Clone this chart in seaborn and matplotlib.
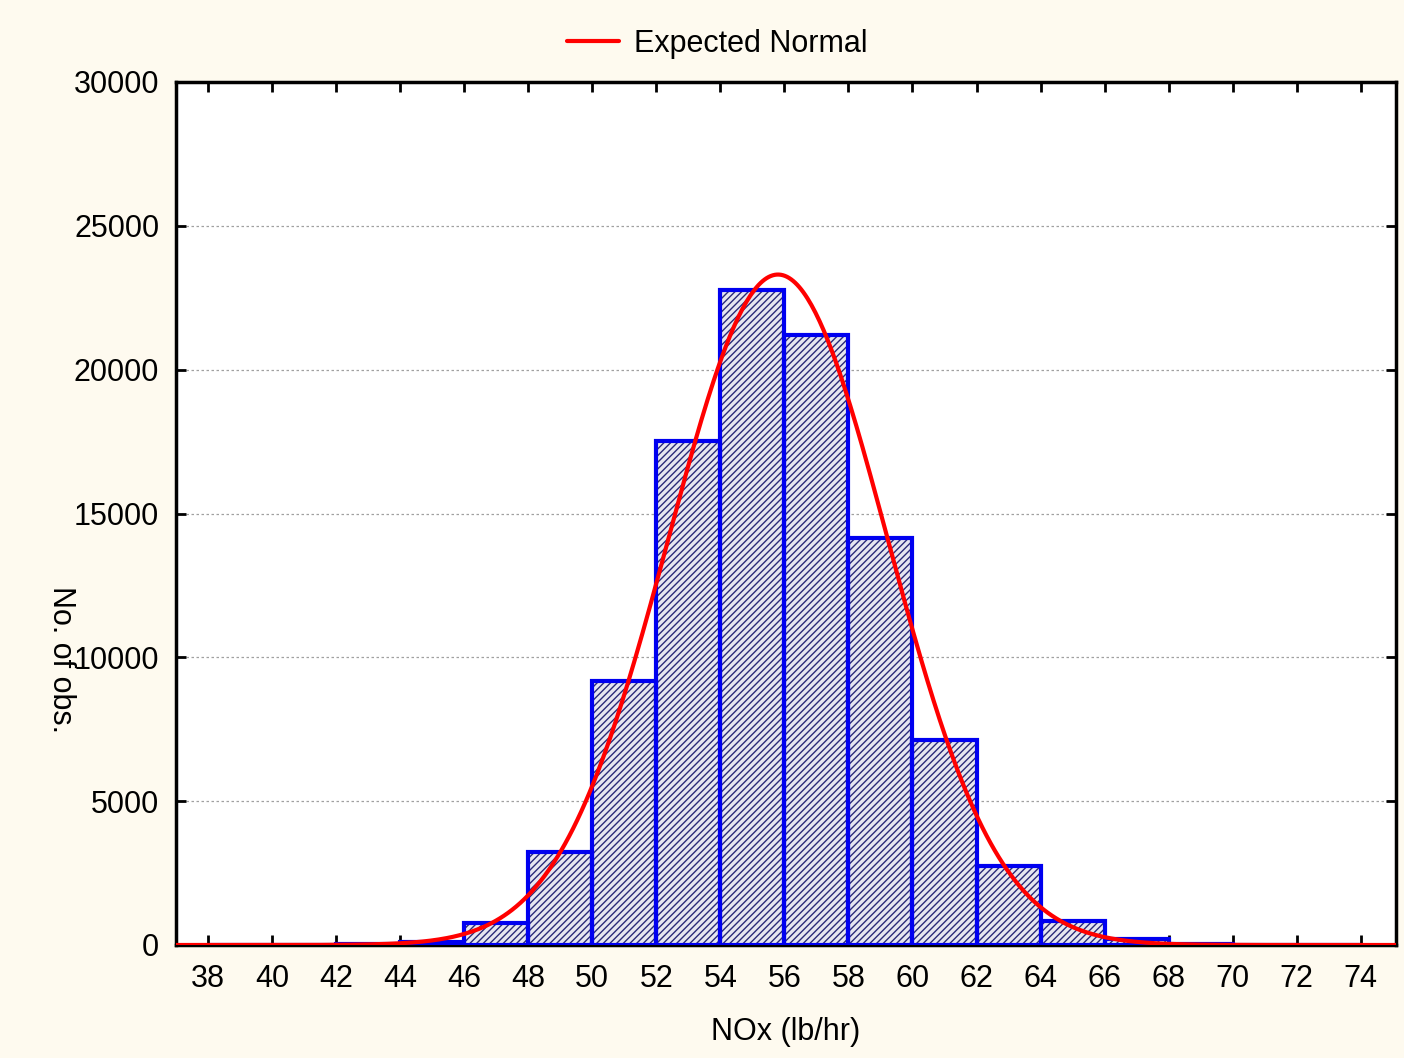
import numpy as np
import pandas as pd
import matplotlib
matplotlib.use("Agg")
import matplotlib.pyplot as plt
import seaborn as sns

# ---- data ----
bin_edges = [38, 40, 42, 44, 46, 48, 50, 52, 54, 56, 58, 60, 62, 64, 66, 68, 70, 72, 74]
counts = [0, 5, 20, 120, 770, 3230, 9180, 17520, 22770, 21200, 14150, 7130, 2750, 830, 210, 30, 5, 0]
x_ticks = list(range(38, 76, 2))
y_ticks = [0, 5000, 10000, 15000, 20000, 25000, 30000]
normal_mean = 55.8
normal_sd = 3.42
normal_n = 99900
bin_width = 2

sns.set_theme(style="white")
plt.rcParams['font.family'] = ['Liberation Sans', 'DejaVu Sans']
plt.rcParams['hatch.linewidth'] = 1.0
plt.rcParams['text.color'] = 'black'
plt.rcParams['xtick.color'] = 'black'
plt.rcParams['ytick.color'] = 'black'

fig = plt.figure(figsize=(14.04, 10.58), dpi=100, facecolor='#FEFAEF')
ax = fig.add_axes([176/1404, 1-945/1058, (1396-176)/1404, (945-82)/1058])
ax.set_facecolor('white')

centers = [(a + b) / 2 for a, b in zip(bin_edges[:-1], bin_edges[1:])]
df = pd.DataFrame({"x": centers, "w": counts})

# hatched fill
sns.histplot(data=df, x="x", weights="w", bins=bin_edges, ax=ax,
             color='#E6E6F0', linewidth=0, alpha=1, zorder=2)
for p in ax.patches:
    p.set_hatch('/////')
    p.set_edgecolor('#2A2A78')
    p.set_linewidth(0)
# blue outline
sns.histplot(data=df, x="x", weights="w", bins=bin_edges, ax=ax,
             fill=False, color='#0000F0', linewidth=3.0, zorder=3)

# expected normal curve
xs = np.linspace(37, 75.1, 600)
ys = normal_n * bin_width / (normal_sd * np.sqrt(2 * np.pi)) * np.exp(-0.5 * ((xs - normal_mean) / normal_sd) ** 2)
sns.lineplot(x=xs, y=ys, ax=ax, color='#FF0000', linewidth=3.0, zorder=4, label='Expected Normal', legend=False)

ax.set_xlim(37, 75.1)
ax.set_ylim(0, 30000)
ax.set_xticks(x_ticks)
ax.set_yticks(y_ticks)
ax.set_xticklabels([str(t) for t in x_ticks])
ax.set_yticklabels([str(t) for t in y_ticks])
ax.yaxis.grid(True, linestyle=(0, (2, 2)), color='#A0A0A0', linewidth=0.9, zorder=0)
ax.xaxis.grid(False)
ax.set_axisbelow(True)
ax.tick_params(axis='both', which='both', direction='in', length=7, width=2, color='black',
               labelcolor='black', labelsize=22, top=True, right=True, bottom=True, left=True)
ax.tick_params(axis='x', pad=14)
ax.tick_params(axis='y', pad=12)
for s in ax.spines.values():
    s.set_color('black')
    s.set_linewidth(2.5)
    s.set_visible(True)

ax.set_xlabel('')
ax.set_ylabel('')
fig.text(786/1404, 1-1032/1058, 'NOx (lb/hr)', ha='center', va='center', fontsize=22, color='black')
fig.text(61/1404, 1-660/1058, 'No. of obs.', ha='center', va='center', rotation=270, fontsize=22, color='black')

handles, labels = ax.get_legend_handles_labels()
leg = fig.legend(handles, labels, loc='center', bbox_to_anchor=(717/1404, 1-44/1058), frameon=False,
                 fontsize=22, handlelength=1.7, handletextpad=0.5)
for t in leg.get_texts():
    t.set_color('black')

fig.savefig('out.png', dpi=100, facecolor=fig.get_facecolor())
